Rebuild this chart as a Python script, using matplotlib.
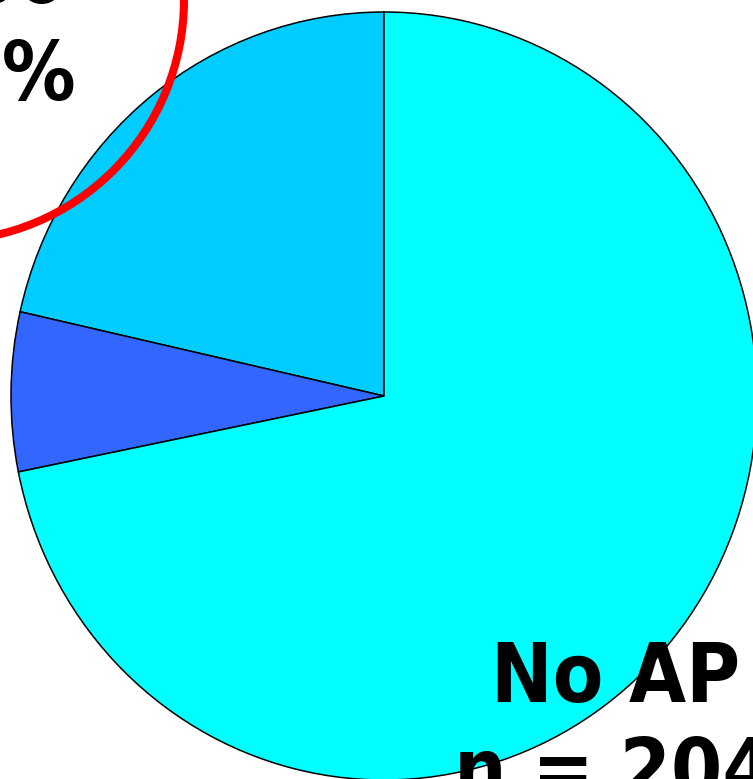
import matplotlib
matplotlib.use('Agg')
import matplotlib.pyplot as plt
import matplotlib.patches as patches
from matplotlib import font_manager

# Slice data (counter-clockwise from 12 o'clock)
slice_names = ['AP (a)', 'AP (b)', 'No AP']
slice_counts = [61, 19, 204]
slice_colors = ['#00CCFF', '#3366FF', '#00FFFF']

# Label texts
no_ap_label = 'No AP'
no_ap_n = 'n = 204'
ap_n = 'n = 80'
ap_pct = '28%'

print(font_manager.findfont(font_manager.FontProperties(family='DejaVu Sans', weight='bold', stretch='condensed')))

W, H = 753, 779
fig = plt.figure(figsize=(W / 100, H / 100), dpi=100)

# Pie axes, placed in pixels (pie runs off the bottom/right of the crop)
left, right, top, bottom = 11, 757, 12, 780
ax = fig.add_axes([left / W, (H - bottom) / H, (right - left) / W, (bottom - top) / H])
ax.pie(slice_counts, colors=slice_colors, startangle=90, counterclock=True,
       wedgeprops=dict(edgecolor='black', linewidth=1.1))
ax.set_aspect('auto')
ax.set_xlim(-1, 1)
ax.set_ylim(-1, 1)
ax.axis('off')

# Overlay axes in pixel coords for annotations
ov = fig.add_axes([0, 0, 1, 1], facecolor='none')
ov.set_xlim(0, W)
ov.set_ylim(H, 0)
ov.axis('off')

ring = patches.Circle((-57, 0), 241, fill=False, edgecolor='#FF0000', linewidth=5.8)
ov.add_patch(ring)

font = dict(family='DejaVu Sans', fontweight='bold', fontstretch='condensed',
            fontsize=59, color='black')
ov.text(67, 3, ap_n, ha='right', va='baseline', **font)
ov.text(76, 100, ap_pct, ha='right', va='baseline', **font)
ov.text(491, 702, no_ap_label, ha='left', va='baseline', **font)
ov.text(454, 797, no_ap_n, ha='left', va='baseline', **font)

plt.savefig('out.png', dpi=100)
